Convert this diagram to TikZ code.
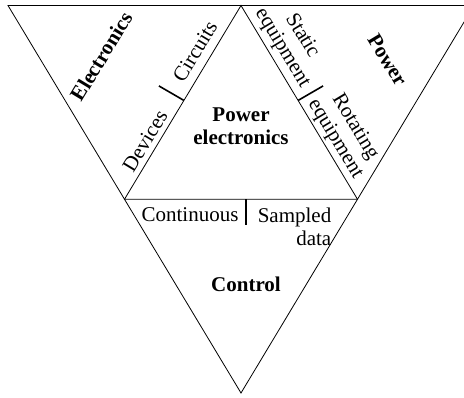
\documentclass[tikz,border=0pt]{standalone}
\usepackage{fontspec}
\setmainfont{Liberation Serif}
\usetikzlibrary{calc}
\tikzset{
  edge/.style={line width=0.8pt, line join=miter},
  tick/.style={line width=1.6pt},
  lbl/.style={inner sep=0pt, font=\fontsize{21}{23}\selectfont},
  blbl/.style={lbl, font=\fontsize{21}{23.5}\selectfont\bfseries},
}
\begin{document}
\begin{tikzpicture}[x=1pt, y=-1pt]
\useasboundingbox (0,0) rectangle (464,398);
\clip (0,0) rectangle (464,398);
% outer triangle and inner triangle through its edge midpoints
\coordinate (L) at (8,5.5);
\coordinate (R) at (474,5.5);
\coordinate (B) at (241,393);
\coordinate (T) at ($(L)!0.5!(R)$);
\coordinate (IL) at ($(L)!0.5!(B)$);
\coordinate (IR) at ($(R)!0.5!(B)$);
\draw[edge] (L) -- (R) -- (B) -- cycle;
\draw[edge] (T) -- (IL) -- (IR) -- cycle;
% dividers on the inner edges
\coordinate (dl) at ($(IL)!0.51!(T)$);
\coordinate (dr) at ($(T)!0.49!(IR)$);
\coordinate (db) at (246,199.25);
\draw[tick] (dl) -- ($(dl)+(-25,-14.5)$);
\draw[tick] (dr) -- ($(dr)+(25,-14.5)$);
\draw[tick] (db) -- ($(db)+(0,25.5)$);
% labels
\node[blbl, rotate=58.9] (elec) at (101.5,56.5) {Electronics};
\node[lbl, rotate=58.9] (circ) at (195,51) {Circuits};
\node[lbl, rotate=58.9] (dev) at (145,141) {Devices};
\node[blbl, align=center] (pe) at (241,126) {Power\\electronics};
\node[lbl, rotate=-58.9, align=center] (stat) at (292,42) {Static\\equipment};
\node[lbl, rotate=-58.9, align=center] (rot) at (345,133) {Rotating\\equipment};
\node[blbl, rotate=-58.9] (pow) at (387.5,60) {Power};
\node[lbl, anchor=base] (cont) at (190,221.7) {Continuous};
\node[lbl, anchor=north east, align=right] (samp) at (331.5,207.7) {Sampled\\data};
\node[blbl, anchor=base] (ctrl) at (246,291.7) {Control};
\end{tikzpicture}
\end{document}
